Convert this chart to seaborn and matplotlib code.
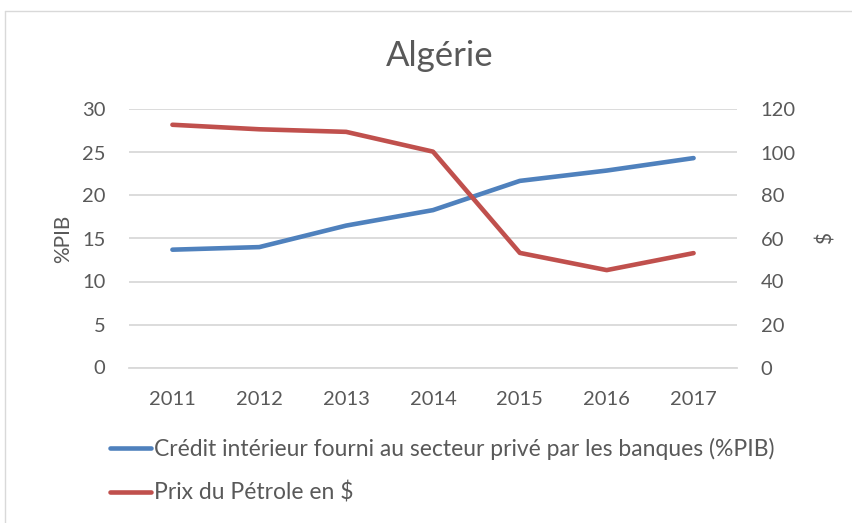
import matplotlib
matplotlib.use("Agg")
import matplotlib.pyplot as plt
from matplotlib.lines import Line2D
import seaborn as sns
import pandas as pd

years = [2011, 2012, 2013, 2014, 2015, 2016, 2017]
credit = [13.7, 14.0, 16.5, 18.3, 21.7, 22.9, 24.35]
oil = [112.9, 110.8, 109.6, 100.4, 53.3, 45.3, 53.2]
credit_label = "Crédit intérieur fourni au secteur privé par les banques (%PIB)"
oil_label = "Prix du Pétrole en $"
title = "Algérie"

sns.set_theme(style="white")
plt.rcParams['font.family'] = ['Lato', 'DejaVu Sans']

grey = "#595959"
blue = "#4F81BD"
red = "#C0504D"
gridc = "#D9D9D9"

df = pd.DataFrame({"year": years, "credit": credit, "oil": oil})

fig = plt.figure(figsize=(8.53, 5.23), dpi=100)
fig.patch.set_facecolor("white")
ax = fig.add_axes([129/853, 1-367.5/523, (737-129)/853, (367.5-109.5)/523])
ax2 = ax.twinx()

sns.lineplot(data=df, x="year", y="credit", ax=ax, color=blue, linewidth=3.3,
             solid_capstyle="round", legend=False)
sns.lineplot(data=df, x="year", y="oil", ax=ax2, color=red, linewidth=3.3,
             solid_capstyle="round", legend=False)

ax.set_xlim(2010.5, 2017.5)
ax.set_ylim(0, 30)
ax2.set_ylim(0, 120)
ax.set_yticks(range(0, 31, 5))
ax2.set_yticks(range(0, 121, 20))
ax.set_xticks(years)
ax.set_xticklabels([str(y) for y in years])

ax.grid(axis="y", color=gridc, linewidth=1.3)
ax.set_axisbelow(True)
for a in (ax, ax2):
    for s in a.spines.values():
        s.set_visible(False)
    a.tick_params(length=0, labelsize=14.5, colors=grey)
ax.spines["bottom"].set_visible(True)
ax.spines["bottom"].set_color(gridc)
ax.spines["bottom"].set_linewidth(1.3)
ax.tick_params(axis="y", pad=17)
ax.tick_params(axis="x", pad=17)
ax2.tick_params(axis="y", pad=17)

ax.set_xlabel("")
ax.set_ylabel("%PIB", fontsize=15, color=grey, labelpad=6)
ax2.set_ylabel("$", fontsize=15, color=grey, labelpad=14)

fig.text(440/853, 1-56/523, title, ha="center", va="center", fontsize=25, color=grey)

handles = [Line2D([0], [0], color=blue, linewidth=3.3, solid_capstyle="round"),
           Line2D([0], [0], color=red, linewidth=3.3, solid_capstyle="round")]
leg = fig.legend(handles, [credit_label, oil_label], loc="upper left",
                 bbox_to_anchor=(110/853, 1-438/523), frameon=False, fontsize=16.5,
                 handlelength=1.8, handletextpad=0.14, labelspacing=0.95,
                 borderpad=0, borderaxespad=0)
for t in leg.get_texts():
    t.set_color(grey)

# chart frame
fig.add_artist(Line2D([5/853, 5/853], [0, 1-11/523], transform=fig.transFigure,
                      color=gridc, linewidth=1))
fig.add_artist(Line2D([5/853, 1], [1-11/523, 1-11/523], transform=fig.transFigure,
                      color=gridc, linewidth=1))

fig.savefig("out.png", dpi=100, facecolor="white")
